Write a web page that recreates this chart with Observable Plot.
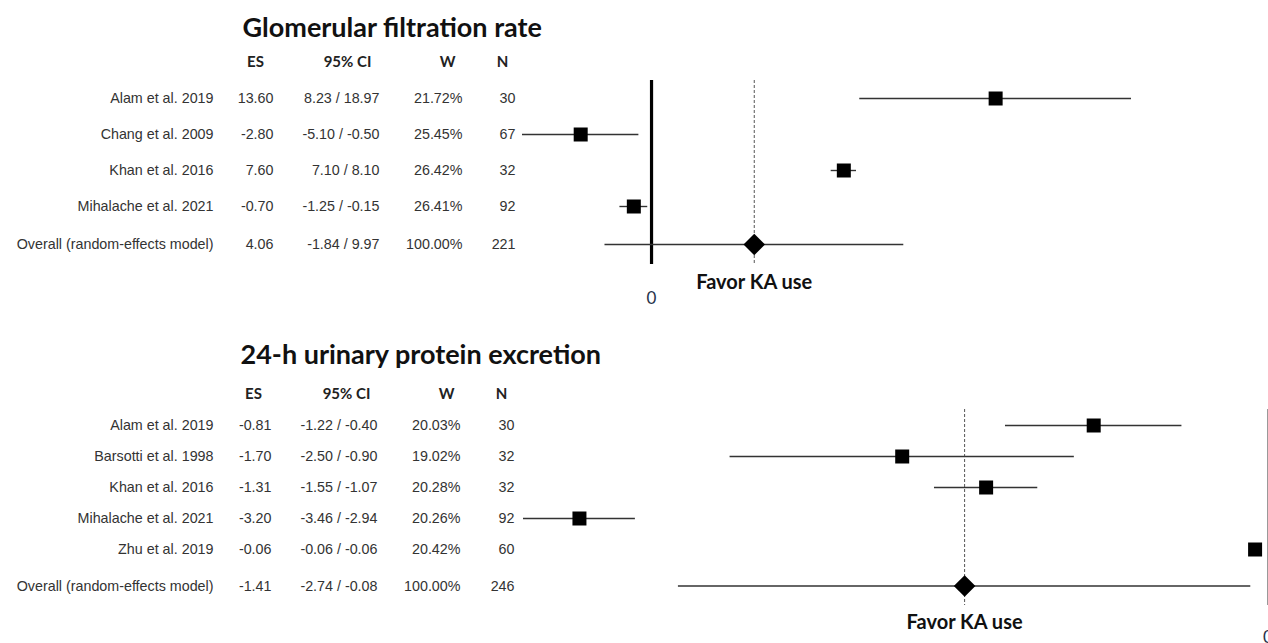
<!DOCTYPE html>
<html><head><meta charset="utf-8">
<script src="https://cdn.jsdelivr.net/npm/d3@7"></script>
<script src="https://cdn.jsdelivr.net/npm/@observablehq/plot@0.6"></script>
<style>
body{margin:0;background:#fff;}
#chart{width:1268px;height:643px;overflow:hidden;}
#chart svg{display:block;overflow:hidden;}
</style></head><body><div id="chart"></div>
<script>
// ---- Data ----
const headerLabels = ["ES", "95% CI", "W", "N"];
const overallLabel = "Overall (random-effects model)";
const favorLabel = "Favor KA use";

const gfrTitle = "Glomerular filtration rate";
const gfrStudies = ["Alam et al. 2019", "Chang et al. 2009", "Khan et al. 2016", "Mihalache et al. 2021"];
const gfrES = [13.60, -2.80, 7.60, -0.70];
const gfrLo = [8.23, -5.10, 7.10, -1.25];
const gfrHi = [18.97, -0.50, 8.10, -0.15];
const gfrW = ["21.72%", "25.45%", "26.42%", "26.41%"];
const gfrN = [30, 67, 32, 92];
const gfrOverall = [4.06, -1.84, 9.97, "100.00%", 221];

const uprTitle = "24-h urinary protein excretion";
const uprStudies = ["Alam et al. 2019", "Barsotti et al. 1998", "Khan et al. 2016", "Mihalache et al. 2021", "Zhu et al. 2019"];
const uprES = [-0.81, -1.70, -1.31, -3.20, -0.06];
const uprLo = [-1.22, -2.50, -1.55, -3.46, -0.06];
const uprHi = [-0.40, -0.90, -1.07, -2.94, -0.06];
const uprW = ["20.03%", "19.02%", "20.28%", "20.26%", "20.42%"];
const uprN = [30, 32, 32, 92, 60];
const uprOverall = [-1.41, -2.74, -0.08, "100.00%", 246];

const HEADER_KEY = "__header__";
const tableFont = "Liberation Sans, Arial, sans-serif";
const boldFont = "Lato, 'Open Sans', sans-serif";

function panel(c) {
  const rows = c.studies.map((s, i) => ({label: s, es: c.es[i], lo: c.lo[i], hi: c.hi[i], w: c.w[i], n: c.n[i]}));
  const ov = {label: overallLabel, es: c.ov[0], lo: c.ov[1], hi: c.ov[2], w: c.ov[3], n: c.ov[4]};
  const all = [...rows, ov];
  const domain = [HEADER_KEY, ...all.map(d => d.label)];
  const fmt = v => v.toFixed(2);
  const cols = [
    {text: d => d.label, right: c.cols[0]},
    {text: d => fmt(d.es), right: c.cols[1]},
    {text: d => `${fmt(d.lo)} / ${fmt(d.hi)}`, right: c.cols[2]},
    {text: d => d.w, right: c.cols[3]},
    {text: d => String(d.n), right: c.cols[4]}
  ];
  const marks = [];
  marks.push(Plot.text([c.title], {text: d => d, frameAnchor: "top-left", dx: c.titleX, dy: c.titleY,
    textAnchor: "start", lineAnchor: "middle", fontSize: 27, fontWeight: "bold", fontFamily: boldFont, fill: "#111"}));
  headerLabels.forEach((h, i) => {
    marks.push(Plot.text([h], {text: d => d, y: () => HEADER_KEY, frameAnchor: "left", dx: c.heads[i],
      textAnchor: "middle", fontSize: 15, fontWeight: "bold", fontFamily: boldFont, fill: "#222"}));
  });
  cols.forEach(col => {
    marks.push(Plot.text(rows, {text: col.text, y: "label", frameAnchor: "left", dx: col.right,
      textAnchor: "end", fontSize: 14.3, fontFamily: tableFont, fill: "#333"}));
    marks.push(Plot.text([ov], {text: col.text, y: "label", frameAnchor: "left", dx: col.right, dy: c.ovDy,
      textAnchor: "end", fontSize: 14.3, fontFamily: tableFont, fill: "#333"}));
  });
  marks.push(Plot.ruleX([0], {stroke: c.zeroColor, strokeWidth: c.zeroWidth, insetTop: c.vTop, insetBottom: c.vBottom}));
  marks.push(Plot.ruleX([ov.es], {stroke: "#555", strokeWidth: 1, strokeDasharray: "3,2", insetTop: c.vTop, insetBottom: c.vBottom}));
  marks.push(Plot.ruleY(rows, {y: "label", x1: "lo", x2: "hi", stroke: "#333", strokeWidth: 1.4}));
  marks.push(Plot.ruleY([ov], {y: "label", x1: "lo", x2: "hi", dy: c.ovDy, stroke: "#333", strokeWidth: 1.4}));
  marks.push(Plot.dot(rows, {x: "es", y: "label", symbol: "square", r: 7.9, fill: "#000", stroke: "none"}));
  marks.push(Plot.dot([ov], {x: "es", y: "label", dy: c.ovDy, symbol: "diamond2", r: 9.7, fill: "#000", stroke: "none"}));
  marks.push(Plot.text([favorLabel], {text: d => d, x: () => ov.es, frameAnchor: "top", dy: c.favorY, lineAnchor: "middle",
    fontSize: 20, fontWeight: "bold", fontFamily: boldFont, fill: "#111"}));
  marks.push(Plot.text(["0"], {text: d => d, x: () => 0, frameAnchor: "top", dy: c.zeroLabelY, lineAnchor: "middle",
    fontSize: 17, fontFamily: boldFont, fill: "#26324a"}));
  return Plot.plot({
    width: 1268, height: c.height, margin: 0,
    x: {domain: c.xDomain, range: c.xRange, axis: null},
    y: {type: "point", domain, range: c.yRange, padding: 0, axis: null},
    marks
  });
}

const chart = document.getElementById("chart");
chart.append(panel({
  title: gfrTitle, studies: gfrStudies, es: gfrES, lo: gfrLo, hi: gfrHi, w: gfrW, n: gfrN, ov: gfrOverall,
  height: 322, titleX: 242, titleY: 28,
  xDomain: [-5.1, 18.97], xRange: [522, 1131], yRange: [62, 242], ovDy: 2,
  cols: [213, 273, 379, 462, 515], heads: [255, 347, 447, 502],
  vTop: 80, vBottom: 58, zeroColor: "#000", zeroWidth: 3.2, favorY: 282, zeroLabelY: 298
}));
chart.append(panel({
  title: uprTitle, studies: uprStudies, es: uprES, lo: uprLo, hi: uprHi, w: uprW, n: uprN, ov: uprOverall,
  height: 321, titleX: 240, titleY: 33,
  xDomain: [-3.46, 0], xRange: [523, 1267.5], yRange: [70, 259.6], ovDy: 5.5,
  cols: [213, 271, 377, 460, 514], heads: [253, 346, 446, 501],
  vTop: 87, vBottom: 38, zeroColor: "#777", zeroWidth: 1.5, favorY: 300, zeroLabelY: 315
}));
</script></body></html>
